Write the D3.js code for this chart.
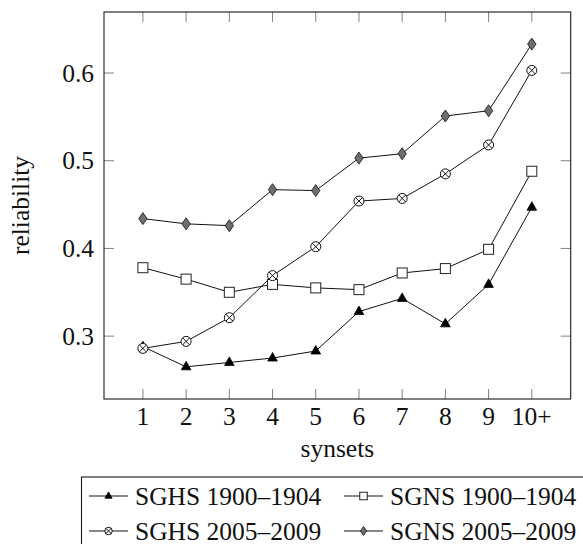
<!DOCTYPE html>
<html>
<head>
<meta charset="utf-8">
<script src="https://cdn.jsdelivr.net/npm/d3@7"></script>
<style>
  body { margin: 0; background: #fff; }
  text { font-family: "Liberation Serif", "Times New Roman", serif; }
</style>
</head>
<body>
<div id="chart"></div>
<script>
// x categories (number of synsets) and their tick labels
const synsets = [1, 2, 3, 4, 5, 6, 7, 8, 9, 10];
const synsetLabels = ["1", "2", "3", "4", "5", "6", "7", "8", "9", "10+"];
const yTicks = [0.3, 0.4, 0.5, 0.6];

// reliability per series
const sghs1900 = [0.288, 0.265, 0.270, 0.275, 0.283, 0.328, 0.343, 0.314, 0.359, 0.447];
const sgns1900 = [0.378, 0.365, 0.350, 0.359, 0.355, 0.353, 0.372, 0.377, 0.399, 0.488];
const sghs2005 = [0.286, 0.294, 0.321, 0.369, 0.402, 0.454, 0.457, 0.485, 0.518, 0.603];
const sgns2005 = [0.434, 0.428, 0.426, 0.467, 0.466, 0.503, 0.508, 0.551, 0.557, 0.633];

const seriesNames = ["SGHS 1900–1904", "SGNS 1900–1904", "SGHS 2005–2009", "SGNS 2005–2009"];
const seriesValues = [sghs1900, sgns1900, sghs2005, sgns2005];
const seriesMarks = ["triangle", "square", "otimes", "diamond"];

const FONT_SIZE = 25.5;

const width = 583, height = 544;
const margin = { top: 12, right: 12.3, bottom: 145, left: 104 };
const innerW = width - margin.left - margin.right;
const innerH = height - margin.top - margin.bottom;

const svg = d3.select("#chart").append("svg")
  .attr("width", width)
  .attr("height", height)
  .style("display", "block");

const g = svg.append("g")
  .attr("transform", `translate(${margin.left},${margin.top})`);

const x = d3.scaleLinear().domain([0.1, 10.9]).range([0, innerW]);
const y = d3.scaleLinear().domain([0.2283, 0.6696]).range([innerH, 0]);

const tickLen = 10;
const tickColor = "#808080";

// ticks on all four sides, pointing inward
const ticks = g.append("g").attr("stroke", tickColor).attr("stroke-width", 1);
synsets.forEach(v => {
  ticks.append("line").attr("x1", x(v)).attr("x2", x(v)).attr("y1", innerH).attr("y2", innerH - tickLen);
  ticks.append("line").attr("x1", x(v)).attr("x2", x(v)).attr("y1", 0).attr("y2", tickLen);
});
yTicks.forEach(v => {
  ticks.append("line").attr("x1", 0).attr("x2", tickLen).attr("y1", y(v)).attr("y2", y(v));
  ticks.append("line").attr("x1", innerW).attr("x2", innerW - tickLen).attr("y1", y(v)).attr("y2", y(v));
});

// frame
g.append("rect")
  .attr("width", innerW)
  .attr("height", innerH)
  .attr("fill", "none")
  .attr("stroke", "#1a1a1a")
  .attr("stroke-width", 1.1);

// tick labels
g.append("g").selectAll("text")
  .data(synsets)
  .join("text")
  .attr("x", d => x(d))
  .attr("y", innerH + 26)
  .attr("text-anchor", "middle")
  .attr("font-size", FONT_SIZE)
  .attr("fill", "#111")
  .text((d, i) => synsetLabels[i]);

g.append("g").selectAll("text")
  .data(yTicks)
  .join("text")
  .attr("x", -10)
  .attr("y", d => y(d))
  .attr("dy", "0.34em")
  .attr("text-anchor", "end")
  .attr("font-size", FONT_SIZE)
  .attr("fill", "#111")
  .text(d => d3.format(".1f")(d));

// axis titles
g.append("text")
  .attr("x", innerW / 2)
  .attr("y", innerH + 58)
  .attr("text-anchor", "middle")
  .attr("font-size", FONT_SIZE)
  .attr("fill", "#111")
  .text("synsets");

svg.append("text")
  .attr("transform", `translate(29,${margin.top + innerH / 2}) rotate(-90)`)
  .attr("text-anchor", "middle")
  .attr("font-size", FONT_SIZE)
  .attr("fill", "#111")
  .text("reliability");

// marker drawing
function drawMark(sel, type, s = 1) {
  if (type === "triangle") {
    sel.append("path")
      .attr("d", `M0,${-5.5 * s}L${4.8 * s},${3 * s}L${-4.8 * s},${3 * s}Z`)
      .attr("fill", "#000").attr("stroke", "#000").attr("stroke-width", 0.8);
  } else if (type === "square") {
    sel.append("rect")
      .attr("x", -5 * s).attr("y", -5 * s).attr("width", 10 * s).attr("height", 10 * s)
      .attr("fill", "#fff").attr("stroke", "#222").attr("stroke-width", 1);
  } else if (type === "otimes") {
    const r = 5 * s, k = r * Math.SQRT1_2;
    sel.append("circle").attr("r", r)
      .attr("fill", "#fff").attr("stroke", "#111").attr("stroke-width", 1);
    sel.append("path")
      .attr("d", `M${-k},${-k}L${k},${k}M${-k},${k}L${k},${-k}`)
      .attr("stroke", "#111").attr("stroke-width", 1);
  } else if (type === "diamond") {
    sel.append("path")
      .attr("d", `M0,${-6 * s}L${4.2 * s},0L0,${6 * s}L${-4.2 * s},0Z`)
      .attr("fill", "#6e6e6e").attr("stroke", "#111").attr("stroke-width", 0.8);
  }
}

const line = d3.line()
  .x((d, i) => x(synsets[i]))
  .y(d => y(d));

seriesValues.forEach((vals, si) => {
  const sg = g.append("g");
  sg.append("path")
    .datum(vals)
    .attr("d", line)
    .attr("fill", "none")
    .attr("stroke", "#111")
    .attr("stroke-width", 1);
  sg.selectAll("g.mark")
    .data(vals)
    .join("g")
    .attr("class", "mark")
    .attr("transform", (d, i) => `translate(${x(synsets[i])},${y(d)})`)
    .each(function() { drawMark(d3.select(this), seriesMarks[si]); });
});

// legend
const legend = svg.append("g");
legend.append("rect")
  .attr("x", 81.5).attr("y", 477)
  .attr("width", 540).attr("height", 100)
  .attr("fill", "#fff")
  .attr("stroke", "#1a1a1a")
  .attr("stroke-width", 1.1);

const colX = [89, 344];
const rowY = [496, 531];
seriesNames.forEach((name, i) => {
  const lx = colX[i % 2], ly = rowY[Math.floor(i / 2)];
  const item = legend.append("g").attr("transform", `translate(${lx},${ly})`);
  item.append("line")
    .attr("x1", 0).attr("x2", 39).attr("y1", 0).attr("y2", 0)
    .attr("stroke", "#111").attr("stroke-width", 1);
  const m = item.append("g").attr("transform", "translate(19.5,0)");
  drawMark(m, seriesMarks[i], 0.75);
  item.append("text")
    .attr("x", 46)
    .attr("y", 8.5)
    .attr("font-size", FONT_SIZE)
    .attr("fill", "#111")
    .text(name);
});
</script>
</body>
</html>
